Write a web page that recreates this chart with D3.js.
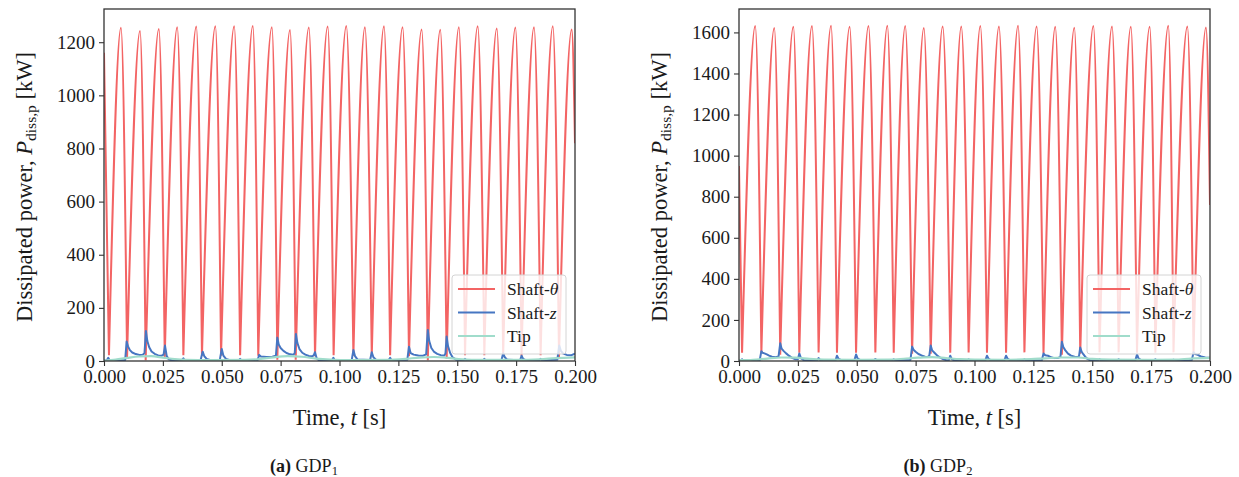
<!DOCTYPE html>
<html>
<head>
<meta charset="utf-8">
<script src="https://cdn.jsdelivr.net/npm/d3@7"></script>
<style>
  html, body { margin: 0; padding: 0; background: #fff; }
  svg { display: block; }
  text { font-family: "Liberation Serif", "Times New Roman", serif; fill: #1a1a1a; }
</style>
</head>
<body>
<svg id="fig" width="1239" height="477"></svg>
<script>
// ---------- data: dissipated power over one 0.2 s window ----------
const xTicks = [0, 0.025, 0.05, 0.075, 0.1, 0.125, 0.15, 0.175, 0.2];
const yTicksA = [0, 200, 400, 600, 800, 1000, 1200];
const yTicksB = [0, 200, 400, 600, 800, 1000, 1200, 1400, 1600];
const seriesNames = ["Shaft-θ", "Shaft-z", "Tip"];

// Shaft-θ (GDP1): trough and crest of every cycle, plus window ends
const thetaStartA = [0, 1160];
const thetaEndA = [0.2, 820];
const thetaTroughTA = [0.0021, 0.0098, 0.0177, 0.0258, 0.0337, 0.0416, 0.0497, 0.0578, 0.0655, 0.0736, 0.0814, 0.0896, 0.0975, 0.1059, 0.1137, 0.1215, 0.1295, 0.1375, 0.1455, 0.1533, 0.1615, 0.1695, 0.1773, 0.1854, 0.1932];
const thetaTroughVA = [22, 15, 3, 15, 22, 20, 20, 22, 20, 5, 5, 18, 22, 20, 20, 22, 18, 3, 8, 22, 22, 20, 20, 22, 15];
const thetaPeakTA = [0.0072, 0.0153, 0.0233, 0.0311, 0.0392, 0.0473, 0.0553, 0.0632, 0.0713, 0.0790, 0.0870, 0.0950, 0.1029, 0.1108, 0.1189, 0.1268, 0.1349, 0.1428, 0.1507, 0.1587, 0.1668, 0.1747, 0.1826, 0.1906, 0.1986];
const thetaPeakVA = [1254, 1242, 1250, 1256, 1259, 1260, 1260, 1261, 1256, 1246, 1255, 1259, 1261, 1256, 1260, 1256, 1248, 1247, 1256, 1260, 1252, 1255, 1256, 1260, 1248];

// Shaft-z (GDP1)
const zTA = [0, 0.0012, 0.0018, 0.0024, 0.0090, 0.0096, 0.0102, 0.0110, 0.0120, 0.0135, 0.0150, 0.0165, 0.0172, 0.0178, 0.0184, 0.0192, 0.0202, 0.0215, 0.0230, 0.0245, 0.0253, 0.0259, 0.0266, 0.0275, 0.0290, 0.0330, 0.0337, 0.0343, 0.0410, 0.0419, 0.0426, 0.0436, 0.0450, 0.0492, 0.0500, 0.0507, 0.0518, 0.0535, 0.0572, 0.0578, 0.0584, 0.0652, 0.0659, 0.0666, 0.0690, 0.0715, 0.0730, 0.0736, 0.0742, 0.0750, 0.0762, 0.0775, 0.0790, 0.0805, 0.0810, 0.0815, 0.0821, 0.0830, 0.0842, 0.0855, 0.0870, 0.0885, 0.0891, 0.0896, 0.0903, 0.0912, 0.0968, 0.0974, 0.0980, 0.1052, 0.1059, 0.1066, 0.1076, 0.1130, 0.1137, 0.1144, 0.1155, 0.1208, 0.1215, 0.1221, 0.1288, 0.1295, 0.1302, 0.1315, 0.1335, 0.1355, 0.1368, 0.1375, 0.1381, 0.1390, 0.1402, 0.1415, 0.1430, 0.1445, 0.1450, 0.1455, 0.1461, 0.1470, 0.1480, 0.1495, 0.1527, 0.1533, 0.1539, 0.1609, 0.1615, 0.1621, 0.1688, 0.1695, 0.1702, 0.1712, 0.1767, 0.1773, 0.1780, 0.1790, 0.1848, 0.1854, 0.1860, 0.1925, 0.1933, 0.1940, 0.1950, 0.1965, 0.1985, 0.2];
const zVA = [2, 3, 12, 3, 4, 73, 55, 41, 32, 26, 23, 24, 30, 113, 75, 52, 36, 27, 21, 20, 24, 58, 20, 6, 2, 2, 10, 2, 3, 35, 18, 8, 4, 5, 45, 20, 8, 3, 2, 8, 2, 3, 23, 17, 15, 16, 20, 88, 62, 49, 38, 30, 25, 24, 30, 102, 68, 45, 31, 24, 19, 18, 22, 33, 10, 3, 2, 12, 2, 4, 41, 18, 6, 4, 33, 14, 5, 3, 12, 3, 5, 54, 30, 24, 21, 20, 25, 117, 75, 49, 34, 27, 22, 21, 28, 92, 55, 30, 14, 5, 2, 8, 2, 2, 8, 2, 4, 29, 14, 5, 3, 20, 8, 3, 2, 8, 2, 5, 58, 38, 28, 23, 22, 28];

// Tip (GDP1)
const tipTA = [0, 0.005, 0.010, 0.015, 0.020, 0.025, 0.030, 0.035, 0.045, 0.060, 0.066, 0.072, 0.078, 0.084, 0.090, 0.096, 0.105, 0.120, 0.128, 0.134, 0.140, 0.146, 0.152, 0.160, 0.175, 0.185, 0.192, 0.2];
const tipVA = [1, 5, 12, 17, 18, 13, 7, 4, 3, 4, 7, 14, 18, 16, 9, 5, 3, 4, 8, 13, 15, 12, 6, 4, 4, 6, 11, 14];

// Shaft-θ (GDP2)
const thetaStartB = [0, 950];
const thetaEndB = [0.2, 760];
const thetaTroughTB = [0.0013, 0.0095, 0.0175, 0.0256, 0.0338, 0.0416, 0.0497, 0.0579, 0.0657, 0.0735, 0.0814, 0.0897, 0.0975, 0.1053, 0.1134, 0.1212, 0.1293, 0.1371, 0.1449, 0.1531, 0.1612, 0.1690, 0.1768, 0.1845, 0.1930];
const thetaTroughVB = [40, 38, 30, 40, 42, 40, 40, 42, 40, 35, 35, 40, 42, 40, 40, 42, 38, 30, 35, 42, 42, 40, 40, 42, 38];
const thetaPeakTB = [0.0069, 0.0150, 0.0231, 0.0310, 0.0391, 0.0470, 0.0550, 0.0630, 0.0706, 0.0785, 0.0865, 0.0944, 0.1025, 0.1104, 0.1185, 0.1264, 0.1343, 0.1424, 0.1505, 0.1584, 0.1664, 0.1744, 0.1823, 0.1904, 0.1983];
const thetaPeakVB = [1631, 1621, 1628, 1631, 1633, 1628, 1631, 1633, 1631, 1621, 1629, 1629, 1631, 1629, 1633, 1629, 1628, 1623, 1631, 1629, 1628, 1628, 1633, 1629, 1624];

// Shaft-z (GDP2)
const zTB = [0, 0.0008, 0.0013, 0.0019, 0.0088, 0.0095, 0.0100, 0.0108, 0.0118, 0.0128, 0.0140, 0.0155, 0.0168, 0.0175, 0.0181, 0.0190, 0.0200, 0.0212, 0.0225, 0.0240, 0.0250, 0.0256, 0.0263, 0.0275, 0.0332, 0.0338, 0.0345, 0.0410, 0.0416, 0.0423, 0.0435, 0.0490, 0.0497, 0.0504, 0.0515, 0.0573, 0.0579, 0.0586, 0.0651, 0.0657, 0.0664, 0.0728, 0.0735, 0.0741, 0.0750, 0.0762, 0.0775, 0.0790, 0.0802, 0.0808, 0.0814, 0.0820, 0.0830, 0.0842, 0.0855, 0.0868, 0.0880, 0.0891, 0.0897, 0.0904, 0.0915, 0.0969, 0.0975, 0.0982, 0.1046, 0.1053, 0.1060, 0.1070, 0.1127, 0.1134, 0.1141, 0.1152, 0.1206, 0.1212, 0.1218, 0.1286, 0.1293, 0.1300, 0.1312, 0.1325, 0.1340, 0.1355, 0.1365, 0.1371, 0.1377, 0.1385, 0.1397, 0.1410, 0.1425, 0.1440, 0.1444, 0.1449, 0.1455, 0.1462, 0.1470, 0.1480, 0.1490, 0.1525, 0.1531, 0.1537, 0.1606, 0.1612, 0.1618, 0.1683, 0.1690, 0.1697, 0.1708, 0.1762, 0.1768, 0.1774, 0.1839, 0.1845, 0.1851, 0.1923, 0.1930, 0.1937, 0.1948, 0.1962, 0.1980, 0.2];
const zVB = [2, 3, 8, 2, 4, 48, 40, 37, 32, 26, 21, 18, 22, 86, 60, 48, 37, 26, 15, 8, 8, 37, 14, 4, 3, 14, 3, 3, 26, 10, 4, 3, 32, 12, 4, 3, 10, 3, 3, 8, 3, 5, 70, 55, 45, 34, 27, 21, 20, 25, 75, 52, 40, 26, 16, 8, 4, 4, 26, 8, 3, 3, 8, 3, 3, 26, 10, 3, 3, 26, 10, 3, 3, 8, 3, 4, 37, 28, 26, 18, 14, 15, 20, 94, 68, 53, 36, 26, 21, 20, 25, 66, 45, 33, 21, 10, 4, 3, 8, 3, 3, 8, 3, 3, 32, 12, 4, 3, 8, 3, 3, 6, 3, 5, 42, 34, 30, 22, 17, 16];

// Tip (GDP2)
const tipTB = [0, 0.006, 0.012, 0.018, 0.024, 0.030, 0.036, 0.050, 0.064, 0.070, 0.076, 0.082, 0.088, 0.094, 0.100, 0.115, 0.124, 0.130, 0.137, 0.144, 0.150, 0.158, 0.175, 0.185, 0.192, 0.2];
const tipVB = [4, 6, 12, 17, 16, 10, 7, 6, 7, 11, 16, 19, 14, 9, 7, 6, 9, 13, 17, 17, 10, 7, 6, 7, 12, 15];

// ---------- drawing ----------
const COLORS = { theta: "#f36464", z: "#4676c2", tip: "#a0dccb" };
const svg = d3.select("#fig");

const zip = (t, v) => t.map((d, i) => [d, v[i]]);

function panel(cfg) {
  const g = svg.append("g");
  const x = d3.scaleLinear().domain([0, 0.2]).range([cfg.left, cfg.right]);
  const y = d3.scaleLinear().domain([0, cfg.yMax]).range([cfg.bottom, cfg.top]);

  const clipId = "clip-" + cfg.id;
  g.append("clipPath").attr("id", clipId).append("rect")
    .attr("x", cfg.left).attr("y", cfg.top)
    .attr("width", cfg.right - cfg.left).attr("height", cfg.bottom - cfg.top);

  const plot = g.append("g").attr("clip-path", `url(#${clipId})`);

  // Shaft-θ: each cycle runs trough -> crest -> next trough
  const cycLine = d3.line().curve(d3.curveMonotoneX).x(d => x(d[0])).y(d => y(d[1]));
  const n = cfg.troughT.length;
  const pieces = [[cfg.start, [cfg.troughT[0], cfg.troughV[0]]]];
  for (let i = 0; i < n; i++) {
    const next = i + 1 < n ? [cfg.troughT[i + 1], cfg.troughV[i + 1]] : cfg.end;
    pieces.push([[cfg.troughT[i], cfg.troughV[i]], [cfg.peakT[i], cfg.peakV[i]], next]);
  }
  plot.append("path")
    .attr("d", pieces.map(p => cycLine(p)).join(""))
    .attr("fill", "none").attr("stroke", COLORS.theta)
    .attr("stroke-width", 2).attr("stroke-linejoin", "round");

  // Shaft-z
  const lin = d3.line().x(d => x(d[0])).y(d => y(d[1]));
  plot.append("path").attr("d", lin(zip(cfg.zT, cfg.zV)))
    .attr("fill", "none").attr("stroke", COLORS.z)
    .attr("stroke-width", 2).attr("stroke-linejoin", "round");

  // Tip
  const smooth = d3.line().curve(d3.curveMonotoneX).x(d => x(d[0])).y(d => y(d[1]));
  plot.append("path").attr("d", smooth(zip(cfg.tipT, cfg.tipV)))
    .attr("fill", "none").attr("stroke", COLORS.tip)
    .attr("stroke-width", 2.2);

  // axes
  const xAxis = d3.axisBottom(x).tickValues(xTicks).tickFormat(d3.format(".3f")).tickSize(5).tickPadding(4);
  const yAxis = d3.axisLeft(y).tickValues(cfg.yTicks).tickFormat(d3.format("d")).tickSize(5).tickPadding(4);
  const gx = g.append("g").attr("transform", `translate(0,${cfg.bottom})`).call(xAxis);
  const gy = g.append("g").attr("transform", `translate(${cfg.left},0)`).call(yAxis);
  [gx, gy].forEach(a => {
    a.select(".domain").remove();
    a.selectAll(".tick line").attr("stroke", "#333").attr("stroke-width", 1.1);
    a.selectAll(".tick text").style("font-family", "Liberation Serif").style("font-size", "19px").attr("fill", "#1a1a1a");
  });
  gx.selectAll(".tick text").attr("dy", "0.7em");

  // frame
  g.append("rect")
    .attr("x", cfg.left).attr("y", cfg.top)
    .attr("width", cfg.right - cfg.left).attr("height", cfg.bottom - cfg.top)
    .attr("fill", "none").attr("stroke", "#333").attr("stroke-width", 1.3);

  // axis titles
  const xt = g.append("text")
    .attr("x", (cfg.left + cfg.right) / 2).attr("y", 425)
    .attr("text-anchor", "middle").style("font-size", "22.5px");
  xt.append("tspan").text("Time, ");
  xt.append("tspan").attr("font-style", "italic").text("t");
  xt.append("tspan").text(" [s]");

  const yt = g.append("text")
    .attr("transform", `translate(${cfg.left - 72},187) rotate(-90)`)
    .attr("text-anchor", "middle").style("font-size", "22.5px");
  yt.append("tspan").text("Dissipated power, ");
  yt.append("tspan").attr("font-style", "italic").text("P");
  yt.append("tspan").attr("baseline-shift", "-22%").style("font-size", "15.5px").text("diss,p");
  yt.append("tspan").text(" [kW]");

  // legend
  const lg = g.append("g");
  lg.append("rect")
    .attr("x", cfg.right - 123).attr("y", 275)
    .attr("width", 114).attr("height", 79).attr("rx", 3)
    .attr("fill", "#fff").attr("fill-opacity", 0.8)
    .attr("stroke", "#d4d4d4").attr("stroke-width", 1);
  const rows = [
    { key: "theta", y: 289 },
    { key: "z", y: 312.5 },
    { key: "tip", y: 336 }
  ];
  rows.forEach((r, i) => {
    lg.append("line")
      .attr("x1", cfg.right - 117).attr("x2", cfg.right - 80)
      .attr("y1", r.y).attr("y2", r.y)
      .attr("stroke", COLORS[r.key]).attr("stroke-width", 2.2);
    const t = lg.append("text").attr("x", cfg.right - 68).attr("y", r.y).attr("dy", "0.35em")
      .style("font-size", "17.5px");
    const name = seriesNames[i];
    if (name.includes("-")) {
      const [a, b] = name.split("-");
      t.append("tspan").text(a + "-");
      t.append("tspan").attr("font-style", "italic").text(b);
    } else {
      t.text(name);
    }
  });

  // caption
  const cap = g.append("text")
    .attr("x", cfg.captionX).attr("y", 472)
    .attr("text-anchor", "middle").style("font-size", "18px");
  cap.append("tspan").attr("font-weight", "bold").text(cfg.tag);
  cap.append("tspan").text(" GDP");
  cap.append("tspan").attr("baseline-shift", "-25%").style("font-size", "12.5px").text(cfg.sub);
}

panel({
  id: "a", left: 104, right: 575, top: 9, bottom: 361, yMax: 1325, yTicks: yTicksA,
  start: thetaStartA, end: thetaEndA,
  troughT: thetaTroughTA, troughV: thetaTroughVA, peakT: thetaPeakTA, peakV: thetaPeakVA,
  zT: zTA, zV: zVA, tipT: tipTA, tipV: tipVA,
  tag: "(a)", sub: "1", captionX: 304
});

panel({
  id: "b", left: 739, right: 1210, top: 9, bottom: 361, yMax: 1714, yTicks: yTicksB,
  start: thetaStartB, end: thetaEndB,
  troughT: thetaTroughTB, troughV: thetaTroughVB, peakT: thetaPeakTB, peakV: thetaPeakVB,
  zT: zTB, zV: zVB, tipT: tipTB, tipV: tipVB,
  tag: "(b)", sub: "2", captionX: 938
});
</script>
</body>
</html>
